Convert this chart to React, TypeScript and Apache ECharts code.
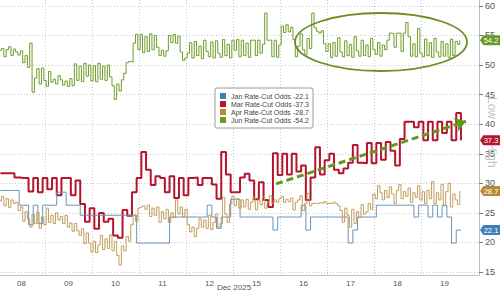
import React, { useEffect, useRef } from "react";
import * as echarts from "echarts";

const dayLabels = ["08", "09", "10", "11", "12", "15", "16", "17", "18", "19"];
const yTicks = [15, 20, 25, 30, 35, 40, 45, 50, 55, 60];
const dayBoundaries = [1, 2, 3, 4, 5, 6, 7, 8, 9];
const dayCenters = [0.5, 1.5, 2.5, 3.5, 4.5, 5.5, 6.5, 7.5, 8.5, 9.5];
// sample times in trading-day units
const timesCoarse = Array.from({ length: 99 }, (_, i) => +(0.05 + 0.1 * i).toFixed(3));
const timesFine = Array.from({ length: 197 }, (_, i) => +(0.025 + 0.05 * i).toFixed(3));

const janOdds = [
  28.8, 28.8, 28.8, 28.8, 26.3, 26.3, 23, 26.3, 23.2, 26.3,
  26.3, 26.3, 28.5, 28.5, 26.3, 26.3, 26.3, 24.6, 24.6, 24.6,
  24.6, 24.6, 24.6, 24.6, 24.6, 24.6, 24.6, 24.6, 24.6, 19.9,
  19.9, 19.9, 19.9, 19.9, 19.9, 19.9, 24.3, 24.3, 24.3, 24.3,
  24.3, 24.3, 24.3, 24.3, 26.3, 24.3, 22.4, 24.3, 24.3, 27.3,
  27.3, 24.3, 24.3, 24.3, 24.3, 24.3, 24.3, 24.3, 22.1, 24.3,
  24.3, 24.3, 24.3, 24.3, 26.3, 22.1, 24.3, 24.3, 24.3, 24.3,
  24.3, 24.3, 24.3, 24.3, 19.9, 22.1, 24.3, 24.3, 24.3, 24.3,
  26.3, 26.3, 26.3, 26.3, 26.3, 26.3, 26.3, 26.3, 24.3, 26.3,
  26.3, 24.3, 26.3, 24.3, 26.3, 24.3, 19.9, 22.1, 22.1,
];
const marOdds = [
  31.7, 31.7, 31.7, 31, 30.9, 30.9, 28.6, 30.9, 28.5, 30.9,
  29, 30.9, 28, 30.9, 30.9, 28, 30.5, 26.5, 23.5, 25.8,
  22.3, 25, 23.5, 24, 21.2, 20.8, 25.5, 24.5, 28.5, 30.9,
  35.3, 32.3, 29.7, 31.2, 30.9, 28.5, 31.2, 27.5, 30.9, 28,
  30.9, 31, 29.7, 30.9, 30.9, 29.8, 27.4, 35.3, 31.5, 28.5,
  28.5, 31, 31.6, 30.5, 27.3, 30.2, 27.2, 26, 35.1, 31.4,
  35, 31.5, 35, 32, 33, 27.2, 31, 36.1, 31.5, 33.9,
  35, 32.3, 31.7, 32.5, 33.5, 36.5, 33.5, 33.4, 36.8, 33.4,
  36.8, 34, 37, 35.5, 33, 37.5, 40.4, 40.4, 39.5, 40.4,
  37.3, 40.4, 37.3, 40.4, 38.5, 40.4, 37.3, 41.9, 37.3,
];
const aprOdds = [
  27, 27.8, 26.2, 27.4, 25.9, 27.2, 26.6, 26.8, 25.4, 26, 23.6, 25.2, 24, 22.6, 24.8, 23.2, 25.1, 22.4, 24.3, 23,
  25.8, 23.4, 24.6, 23.2, 25, 23.8, 24.4, 23.2, 24.6, 22.6, 23.3, 21.9, 23.2, 22, 21.2, 22.3, 19.8, 21.6, 19.9, 18.4,
  20.2, 18.3, 19.6, 21.2, 18.8, 20.6, 19, 21.3, 18.6, 20.2, 17.8, 16.2, 19.4, 18.6, 21, 20.2, 23, 24.6, 23.6, 25.8,
  26, 26.2, 25.6, 26.3, 24.4, 25.8, 24.6, 26, 23.4, 25.2, 24, 25.6, 23.4, 25, 24.2, 27.2, 24.8, 26, 24.4, 25.6,
  23, 21.8, 22.6, 21, 22.4, 24, 22.6, 23.8, 22.4, 24.6, 22.2, 23.4, 24.8, 22.6, 23.2, 27.6, 24.8, 23.4, 26.5, 27.8,
  26.2, 27.4, 25.8, 27.2, 26, 27.3, 25.6, 26.8, 27.6, 25.5, 27.2, 26.4, 27.7, 25.8, 26.8, 27.9, 26.6, 27.2, 26.8, 27.4,
  27.8, 26.8, 27.3, 26.9, 27.5, 25.5, 26.8, 27.2, 27.9, 25.4, 26.6, 28.3, 26.2, 26.6, 26.6, 26.5, 26.7, 26.6, 26.9, 26.6,
  26.6, 26.6, 26.8, 26.6, 26.2, 25.4, 23.4, 25.8, 24.6, 22.6, 25.6, 23.2, 25.2, 24.2, 26.4, 24.8, 25.2, 26.6, 25.6, 28.2,
  27.4, 29.6, 28.4, 27.2, 28.8, 27.6, 29.4, 28.2, 26.6, 28.8, 29.8, 27.4, 28.6, 27.8, 29.2, 26.8, 28.4, 27.6, 29.6, 27.2,
  28.6, 26.6, 28.8, 27.4, 30.3, 26.6, 28.4, 27.2, 29.8, 26.2, 28.6, 30, 26, 28.2, 27.2, 26.4, 28.7,
];
const junOdds = [
  52.5, 52.8, 51.4, 52.6, 53.1, 51.6, 52.7, 52.2, 51.7, 52.4, 50.4, 51.6, 49.6, 53.7, 45.4, 47.8, 49.4, 46.8, 49.5, 47.4,
  46.4, 48.9, 47.1, 47.6, 46.8, 48.2, 47.5, 46.6, 47.3, 46.4, 47.7, 46.5, 50.2, 47.4, 49.8, 47.2, 50.3, 48.1, 50, 47.3,
  49.9, 47.2, 50.3, 47.6, 49.8, 47.4, 50, 48, 46.5, 44.2, 46.8, 45.6, 47.5, 48.6, 50.4, 50.6, 50.5, 53.7, 55.2, 52.6,
  55.2, 52.1, 54.8, 52.3, 55.3, 52.6, 55, 53, 51.6, 52.5, 51.5, 52.4, 55, 53.8, 55.2, 53.7, 54.9, 52.2, 50.8, 51.2,
  52, 53.8, 51.2, 54, 51.6, 53.2, 51.1, 54.2, 52.3, 51.4, 53.9, 51.2, 54.1, 52, 51.3, 54.3, 51.6, 53.5, 51.2, 54.2,
  52.5, 54.3, 51.4, 54.2, 51.6, 53.7, 51.3, 54.2, 54.2, 51.6, 54.2, 52, 53.5, 58.8, 54.2, 54.2, 51.4, 54.2, 51.3, 53.4,
  56.6, 55.5, 56.8, 55.6, 56.4, 54.3, 51.4, 53.2, 55.3, 52.6, 51.7, 54.5, 52.8, 58.8, 56.3, 55.7, 55.4, 55.8, 53.6, 52.3,
  53.6, 51.3, 53.8, 51.5, 54.6, 52.2, 51.4, 54.1, 51.6, 53.5, 51.3, 54.8, 52.4, 51.5, 54.2, 51.6, 53.4, 51.4, 54.5, 52.6,
  51.8, 53.8, 51.5, 53.4, 52.6, 54.2, 55.4, 55.3, 53, 55.4, 55.4, 52.3, 55.4, 57.2, 54.8, 51.5, 53.6, 51.4, 56.2, 52,
  51.4, 54.4, 51.6, 53.8, 51.3, 54.5, 52.2, 51.4, 54, 51.5, 53.6, 51.3, 54.4, 51.6, 54, 53.5, 54.2,
];

const seriesNames = ["Jan Rate-Cut Odds", "Mar Rate-Cut Odds", "Apr Rate-Cut Odds", "Jun Rate-Cut Odds"];
const lastValues = [22.1, 37.3, 28.7, 54.2];
const trendStart = [5.915, 29.9];
const trendEnd = [9.957, 40.5];

const X_MIN = 0.0426;
const X_MAX = 10.234;
const FONT = "'Liberation Sans', Arial, sans-serif";

const colors = {
  jan: "#3d7fb8",
  mar: "#b3142e",
  apr: "#b98a35",
  jun: "#6a9a22",
};
const lineColors = {
  jan: "#6a94b8",
  mar: "#b3142e",
  apr: "#c29d5c",
  jun: "#6f9d2a",
};

function tag(value: number, color: string) {
  return {
    symbol: "path://M0,5L4,0L24,0L24,10L4,10Z",
    symbolSize: [20, 10],
    symbolKeepAspect: false,
    symbolOffset: [11, 0],
    data: [
      {
        coord: [X_MAX, value],
        itemStyle: { color },
        label: {
          show: true,
          position: "inside",
          offset: [1, 0],
          formatter: value.toFixed(1),
          color: "#fff",
          fontSize: 7.5,
          fontFamily: FONT,
        },
      },
    ],
  };
}

function pairs(ts: number[], vals: number[]) {
  return vals.map((v, i) => [ts[i], v]);
}

export default function App() {
  const ref = useRef<HTMLDivElement>(null);
  useEffect(() => {
    if (!ref.current) return;
    const chart = echarts.init(ref.current, undefined, { renderer: "svg" });
    const gridLine = { show: true, lineStyle: { color: "#c9c9c9", type: [1, 2], width: 1 } };
    const option: any = {
      animation: false,
      backgroundColor: "#fff",
      textStyle: { fontFamily: FONT },
      grid: { left: 0, right: 21, top: 0, bottom: 18, containLabel: false },
      legend: {
        data: seriesNames,
        orient: "vertical",
        left: 215,
        top: 88,
        itemWidth: 6,
        itemHeight: 6,
        itemGap: 0,
        icon: "rect",
        backgroundColor: "#fff",
        borderColor: "#9a9a9a",
        borderWidth: 1,
        borderRadius: 2,
        padding: [4, 4, 4, 5],
        selectedMode: false,
        formatter: (name: string) => {
          const idx = seriesNames.indexOf(name);
          return `{n|${name}}{v|-${lastValues[idx].toFixed(1)}}`;
        },
        textStyle: {
          fontSize: 7,
          color: "#444",
          fontFamily: FONT,
          lineHeight: 8,
          rich: {
            n: { width: 60, fontSize: 7, color: "#444", fontFamily: FONT, lineHeight: 8 },
            v: { width: 18, align: "right", fontSize: 7, color: "#444", fontFamily: FONT, lineHeight: 8 },
          },
        },
      },
      xAxis: {
        type: "value",
        min: X_MIN,
        max: X_MAX,
        position: "bottom",
        axisLine: { show: true, lineStyle: { color: "#b9c3cc", width: 1 } },
        axisTick: { show: false, customValues: dayBoundaries },
        axisLabel: {
          customValues: dayCenters,
          formatter: (v: number) => dayLabels[Math.floor(v)] ?? "",
          fontSize: 8,
          color: "#555",
          margin: 4,
          fontFamily: FONT,
        },
        splitLine: gridLine,
      },
      yAxis: {
        type: "value",
        min: 14.5,
        max: 61,
        position: "right",
        axisLine: { show: true, lineStyle: { color: "#b0c2d2", width: 1 } },
        axisTick: { show: true, length: 4, customValues: yTicks, lineStyle: { color: "#777" } },
        axisLabel: {
          customValues: yTicks,
          fontSize: 9,
          color: "#555",
          margin: 6,
          fontFamily: FONT,
        },
        splitLine: gridLine,
      },
      series: [
        {
          name: "Mar Rate-Cut Odds",
          type: "line",
          step: "end",
          data: pairs(timesCoarse, marOdds),
          showSymbol: false,
          color: colors.mar,
          lineStyle: { color: lineColors.mar, width: 2 },
          markPoint: tag(lastValues[1], colors.mar),
          z: 3,
        },
        {
          name: "Jan Rate-Cut Odds",
          type: "line",
          step: "end",
          data: pairs(timesCoarse, janOdds),
          showSymbol: false,
          color: colors.jan,
          lineStyle: { color: lineColors.jan, width: 1 },
          markPoint: tag(lastValues[0], colors.jan),
          z: 4,
        },
        {
          name: "Apr Rate-Cut Odds",
          type: "line",
          step: "end",
          data: pairs(timesFine, aprOdds),
          showSymbol: false,
          color: colors.apr,
          lineStyle: { color: lineColors.apr, width: 1 },
          markPoint: tag(lastValues[2], colors.apr),
          z: 5,
        },
        {
          name: "Jun Rate-Cut Odds",
          type: "line",
          step: "end",
          data: pairs(timesFine, junOdds),
          showSymbol: false,
          color: colors.jun,
          lineStyle: { color: lineColors.jun, width: 1 },
          markPoint: tag(lastValues[3], colors.jun),
          markLine: {
            silent: true,
            symbol: ["none", "arrow"],
            symbolSize: 11,
            label: { show: false },
            lineStyle: { color: "#5e9b1c", width: 3, type: [7, 4] },
            data: [[{ coord: trendStart }, { coord: trendEnd }]],
          },
          z: 6,
        },
      ],
      graphic: [
        {
          type: "ellipse",
          shape: { cx: 381, cy: 42, rx: 86, ry: 29 },
          style: { fill: "none", stroke: "#6b8e23", lineWidth: 1.8 },
          z: 10,
        },
        {
          type: "text",
          x: 486,
          y: 97,
          rotation: -Math.PI / 2,
          style: {
            text: "Low",
            font: `12px ${FONT}`,
            fill: "#c4c4c4",
            textVerticalAlign: "bottom",
          },
          z: 1,
        },
        {
          type: "text",
          x: 486,
          y: 143,
          rotation: -Math.PI / 2,
          style: {
            text: "High",
            font: `12px ${FONT}`,
            fill: "#c4c4c4",
            textVerticalAlign: "bottom",
          },
          z: 1,
        },
        {
          type: "text",
          x: 234,
          y: 283,
          style: {
            text: "Dec 2025",
            font: `8px ${FONT}`,
            fill: "#555",
            textAlign: "center",
          },
        },
      ],
    };
    chart.setOption(option);
    return () => chart.dispose();
  }, []);
  return (
    <div
      ref={ref}
      style={{ position: "absolute", left: 0, top: 0, width: 500, height: 293 }}
    />
  );
}
